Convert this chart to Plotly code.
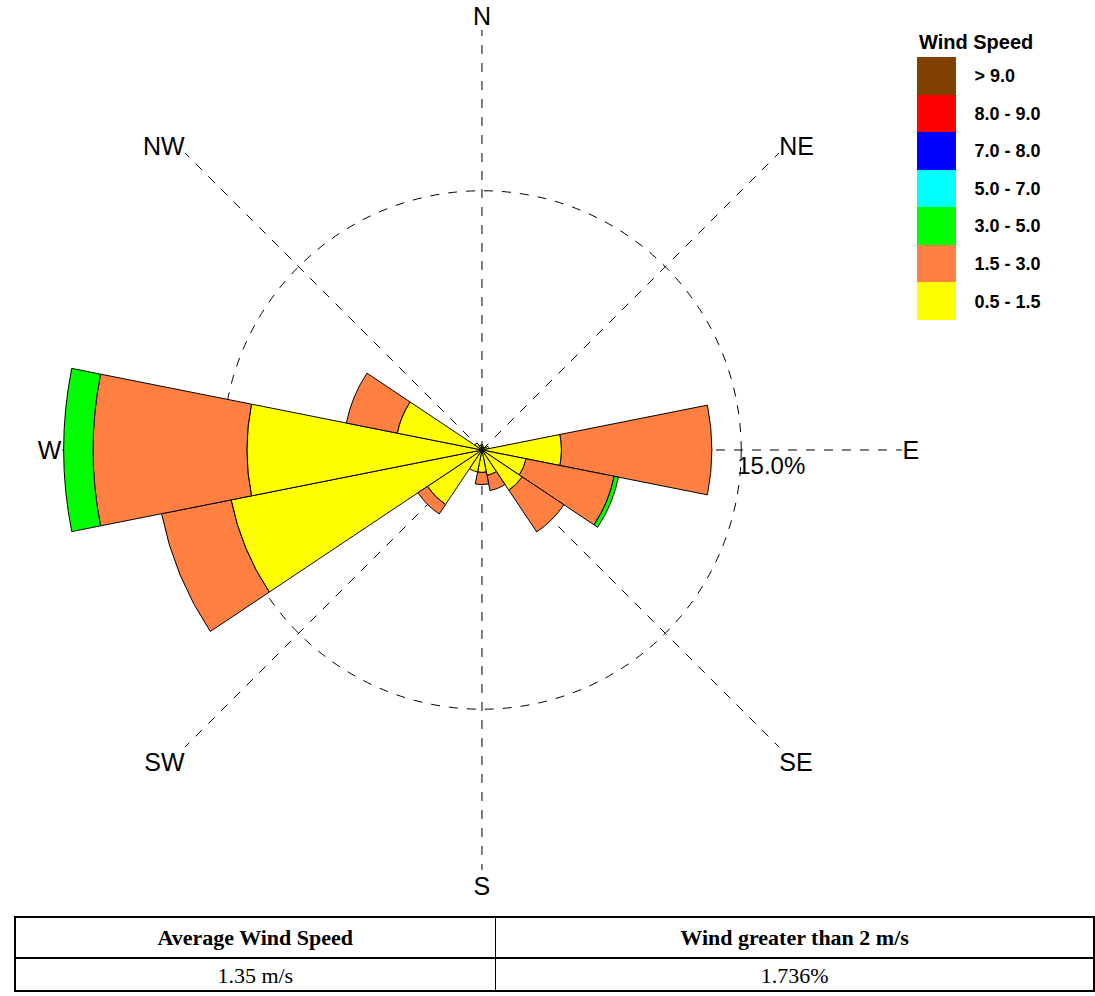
import plotly.graph_objects as go

# ---------------- data ----------------
directions = ["N", "NNE", "NE", "ENE", "E", "ESE", "SE", "SSE",
              "S", "SSW", "SW", "WSW", "W", "WNW", "NW", "NNW"]
compass_labels = ["N", "NE", "E", "SE", "S", "SW", "W", "NW"]

speed_bins = ["0.5 - 1.5", "1.5 - 3.0", "3.0 - 5.0", "5.0 - 7.0",
              "7.0 - 8.0", "8.0 - 9.0", "> 9.0"]
bin_colors = ["#FFFF00", "#FF8040", "#00FF00", "#00FFFF",
              "#0000FF", "#FF0000", "#804000"]

# frequency (%) per direction for each speed bin
freq_05_15 = [0.3, 0.2, 0.2, 0.4, 4.6, 2.6, 2.8, 1.5,
              1.3, 1.3, 3.8, 14.8, 13.6, 5.0, 0.5, 0.3]
freq_15_30 = [0.0, 0.0, 0.0, 0.0, 8.7, 5.2, 2.9, 0.9,
              0.7, 0.0, 0.65, 4.1, 8.9, 3.0, 0.0, 0.0]
freq_30_50 = [0.0, 0.0, 0.0, 0.0, 0.0, 0.25, 0.0, 0.0,
              0.0, 0.0, 0.0, 0.0, 1.7, 0.0, 0.0, 0.0]
freq_50_70 = [0.0] * 16
freq_70_80 = [0.0] * 16
freq_80_90 = [0.0] * 16
freq_gt_90 = [0.0] * 16
series = [freq_05_15, freq_15_30, freq_30_50, freq_50_70,
          freq_70_80, freq_80_90, freq_gt_90]

radial_ticks = [15.0]
table_header = ["Average Wind Speed", "Wind greater than 2 m/s"]
table_values = ["1.35 m/s", "1.736%"]
legend_title = "Wind Speed"

# ---------------- figure ----------------
step = 360 / len(directions)
theta = [i * step for i in range(len(directions))]
compass_angles = [i * 45 for i in range(len(compass_labels))]

fig = go.Figure()
for name, vals, col in zip(speed_bins, series, bin_colors):
    fig.add_trace(go.Barpolar(
        r=vals, theta=theta, width=[step] * len(theta), name=name,
        marker=dict(color=col, line=dict(color="black", width=1)),
        showlegend=False, subplot="polar",
    ))

# legend drawn as a column of colour cells
fig.add_trace(go.Heatmap(
    z=[[i] for i in range(len(speed_bins))],
    x=[0], y=speed_bins,
    colorscale=[[i / (len(bin_colors) - 1), c] for i, c in enumerate(bin_colors)],
    zmin=0, zmax=len(bin_colors) - 1, showscale=False,
    xaxis="x", yaxis="y", hoverinfo="skip",
))

fig.add_trace(go.Table(
    domain=dict(x=[0.0137, 1.0], y=[0, 0.0793]),
    columnwidth=[481, 599],
    header=dict(values=[f"<b>{h}</b>" for h in table_header],
                fill_color="white", line=dict(color="black", width=1.5),
                font=dict(family="Liberation Serif", size=22, color="black"),
                height=35, align="center"),
    cells=dict(values=[[v] for v in table_values],
               fill_color="white", line=dict(color="black", width=1.5),
               font=dict(family="Liberation Serif", size=22, color="black"),
               height=33, align="center"),
))

fig.update_layout(
    width=1095, height=996,
    margin=dict(l=0, r=0, t=0, b=0),
    paper_bgcolor="white", plot_bgcolor="white",
    showlegend=False,
    polar=dict(
        domain=dict(x=[0.0566, 0.8237], y=[0.1265, 0.9699]),
        bgcolor="white",
        barmode="stack",
        angularaxis=dict(
            direction="clockwise", rotation=90,
            tickmode="array", tickvals=compass_angles, ticktext=compass_labels,
            showline=False, ticks="", showgrid=True,
            gridcolor="black", gridwidth=1, griddash="dash",
            layer="above traces",
            tickfont=dict(family="Liberation Sans", size=25, color="black"),
        ),
        radialaxis=dict(
            range=[0, 24.3], angle=0, side="clockwise",
            tickmode="array", tickvals=radial_ticks,
            ticktext=[f"\u00a0\u00a0\u00a0\u00a0\u00a0\u00a0\u00a0\u00a0\u00a0{v:.1f}%" for v in radial_ticks],
            showline=False, ticks="", showgrid=True,
            gridcolor="black", gridwidth=1, griddash="dash",
            layer="above traces",
            tickfont=dict(family="Liberation Sans", size=24, color="black"),
        ),
    ),
    xaxis=dict(domain=[0.8374, 0.873], visible=False, fixedrange=True),
    yaxis=dict(domain=[0.6787, 0.9428], side="right", showgrid=False,
               zeroline=False, showline=False, ticks="outside", ticklen=14,
               tickcolor="white", fixedrange=True,
               tickfont=dict(family="Liberation Sans Narrow, Liberation Sans",
                             size=18, color="black", weight="bold")),
    annotations=[dict(
        text=f"<b>{legend_title}</b>", xref="paper", yref="paper",
        x=0.8374, y=0.9428, xanchor="left", yanchor="bottom", yshift=2,
        showarrow=False,
        font=dict(family="Liberation Sans Narrow, Liberation Sans", size=20, color="black"),
    )],
)

fig.write_html("out.html", config={"displayModeBar": False},
               post_script="document.body.style.margin='0';")
